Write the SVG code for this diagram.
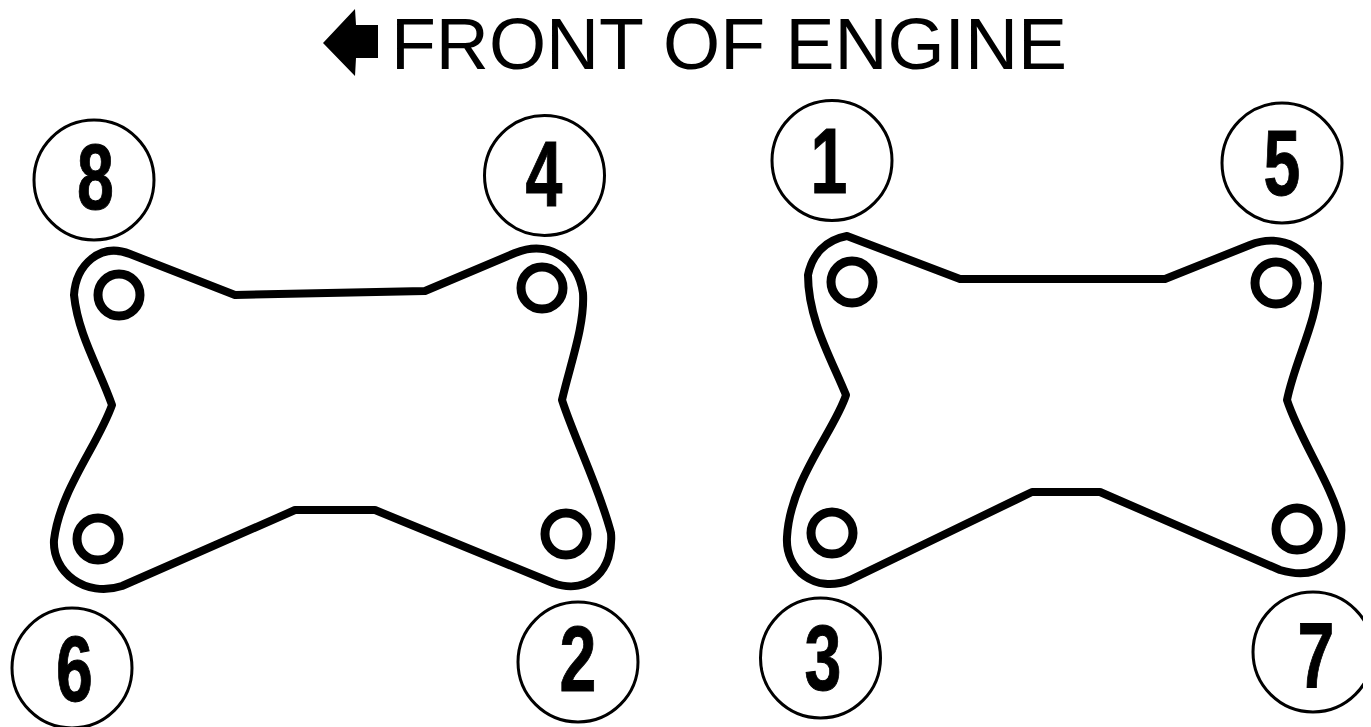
<svg xmlns="http://www.w3.org/2000/svg" width="1371" height="727" viewBox="0 0 1371 727">
<defs><clipPath id="crop"><rect x="0" y="0" width="1363" height="727"/></clipPath></defs>
<style>
.c{fill:none;stroke:#000;stroke-width:3}
.g{fill:none;stroke:#000;stroke-width:8;stroke-linejoin:round}
.h{fill:none;stroke:#000;stroke-width:9}
.n{font-family:"Liberation Sans",Arial,sans-serif;font-weight:700;font-size:92px;text-anchor:middle;fill:#000;stroke:#000;stroke-width:1}
.t{font-family:"Liberation Sans",Arial,sans-serif;font-size:72px;fill:#000}
</style>
<rect width="1371" height="727" fill="#fff"/>
<g id="title">
<polygon points="323,43 355,9 356,25 378,25 378,58 356,58 355,76" fill="#000"/>
<text class="t" x="391" y="69" textLength="676" lengthAdjust="spacingAndGlyphs">FRONT OF ENGINE</text>
</g>
<g id="connectors"></g>
<g id="gasket-left">
<path class="g" d="M130,254 L235,295 L425,291 L515,253 C548,240 578,258 583,293 C585,325 570,365 562,400 C575,440 600,490 611,533 C614,568 590,596 553,583 L375,510 L295,510 L122,586 C85,598 52,572 54,540 C60,490 98,445 112,405 C100,370 78,335 74,295 C76,265 100,242 130,254 Z"/>
<circle class="h" cx="119" cy="295" r="21"/>
<circle class="h" cx="542" cy="288" r="21"/>
<circle class="h" cx="98" cy="539" r="21"/>
<circle class="h" cx="566" cy="534" r="21"/>
</g>
<g id="gasket-right">
<path class="g" d="M847,236 L960,279 L1165,279 L1250,245 C1282,232 1314,250 1318,283 C1318,320 1295,360 1287,400 C1300,440 1332,485 1341,523 C1345,558 1320,582 1280,570 L1100,492 L1032,492 L850,580 C815,594 785,570 787,537 C790,480 835,430 846,395 C832,360 808,320 808,275 C812,255 825,240 847,236 Z"/>
<circle class="h" cx="852" cy="282" r="21"/>
<circle class="h" cx="1276" cy="283" r="21"/>
<circle class="h" cx="832" cy="533" r="21"/>
<circle class="h" cx="1297" cy="529" r="21"/>
</g>
<g id="n8"><circle class="c" cx="94" cy="180" r="60"/><text class="n" transform="translate(95.5 209) scale(.72 1)">8</text></g>
<g id="n4"><circle class="c" cx="544.5" cy="175.5" r="60"/><text class="n" transform="translate(544 206) scale(.72 1)">4</text></g>
<g id="n1"><circle class="c" cx="832" cy="160.5" r="60"/><text class="n" transform="translate(829 193) scale(.72 1)">1</text></g>
<g id="n5"><circle class="c" cx="1282" cy="163" r="60"/><text class="n" transform="translate(1282 195) scale(.72 1)">5</text></g>
<g id="n6"><circle class="c" cx="72" cy="668" r="60"/><text class="n" transform="translate(74.5 701) scale(.72 1)">6</text></g>
<g id="n2"><circle class="c" cx="578" cy="662" r="60"/><text class="n" transform="translate(578 691) scale(.72 1)">2</text></g>
<g id="n3"><circle class="c" cx="820.5" cy="658" r="60"/><text class="n" transform="translate(823 690) scale(.72 1)">3</text></g>
<g id="n7" clip-path="url(#crop)"><circle class="c" cx="1313" cy="652" r="60"/><text class="n" transform="translate(1316 687) scale(.72 1)">7</text></g>
</svg>
